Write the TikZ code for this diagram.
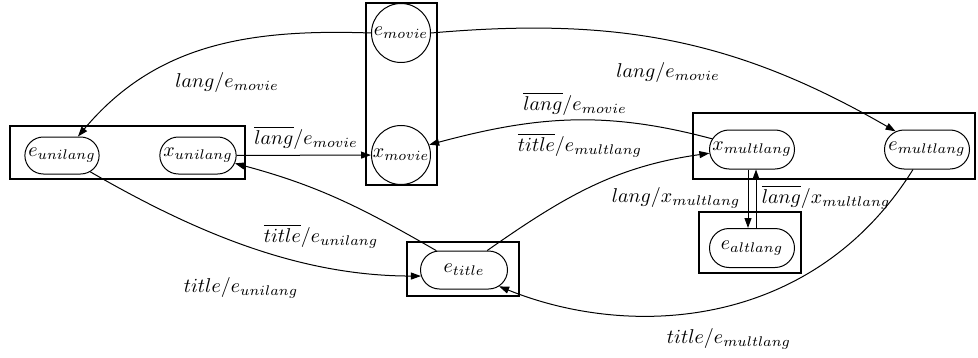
\documentclass[tikz,border=0pt]{standalone}
\usepackage{amsmath,amssymb}
\usepackage{tikz}
\usetikzlibrary{shapes.misc,arrows.meta}

\tikzset{
	st/.style={draw, rounded rectangle, line width=0.5pt, minimum width=44.5pt, minimum height=19.5pt, inner sep=1pt},
	cst/.style={draw, circle, line width=0.5pt, minimum size=29.5pt, inner sep=0pt},
	grp/.style={line width=1.2pt},
	tr/.style={->, line width=0.5pt}
}

\begin{document}
\begin{tikzpicture}[x=0.5pt, y=-0.5pt, >={Triangle[length=5pt,width=3.5pt]}]
	\useasboundingbox (0,0) rectangle (978,358);
	\draw [grp] (10,126) rectangle (245,179);
	\draw [grp] (366,3) rectangle (437,185);
	\draw [grp] (693,113) rectangle (975,179);
	\draw [grp] (699,212) rectangle (801,273);
	\draw [grp] (407,242) rectangle (519,296);

	\node [st, minimum width=36pt, minimum height=18.5pt] (eunilang) at (62,155.5) {$e_{unilang}$};
	\node [st, minimum width=37pt, minimum height=18.5pt] (xunilang) at (198,155.5) {$x_{unilang}$};
	\node [cst] (emovie) at (401,33) {$e_{movie}$};
	\node [cst] (xmovie) at (401,155) {$x_{movie}$};
	\node [st] (xmultlang) at (752,149.5) {$x_{multlang}$};
	\node [st] (emultlang) at (927,149.5) {$e_{multlang}$};
	\node [st] (ealtlang) at (752,248) {$e_{altlang}$};
	\node [st, minimum width=45.5pt, minimum height=19pt] (etitle) at (464,270) {$e_{title}$};

	\draw [tr] (emovie.west) to[out=178,in=50] (eunilang.50);
	\draw [tr] (emovie.east) to[out=5,in=150] (emultlang.150);
	\draw [tr] (xunilang) -- (xmovie);
	\draw [tr] (xmultlang.165) to[out=165,in=15] (xmovie.20);
	\draw [tr] (etitle.145) to[out=150,in=-15] (xunilang.-12);
	\draw [tr] (eunilang.-30) to[out=-30,in=180,looseness=0.9] (etitle.188);
	\draw [tr] (etitle.40) to[out=35,in=188] (xmultlang.185);
	\draw [tr] ([xshift=-2pt]xmultlang.south) -- ([xshift=-2pt]ealtlang.north);
	\draw [tr] ([xshift=2pt]ealtlang.north) -- ([xshift=2pt]xmultlang.south);
	\draw [tr] (emultlang.-125) to[out=-122,in=-22,out looseness=1.12,in looseness=0.85] (etitle.-25);

	\node (l1) at (227,83) {$lang/e_{movie}$};
	\node (l2) at (668,73) {$lang/e_{movie}$};
	\node (l3) at (306,138) {$\overline{lang}/e_{movie}$};
	\node (l4) at (575,104) {$\overline{lang}/e_{movie}$};
	\node (l5) at (580,145) {$\overline{title}/e_{multlang}$};
	\node (l6) at (676,198) {$lang/x_{multlang}$};
	\node (l7) at (826,197) {$\overline{lang}/x_{multlang}$};
	\node (l8) at (321,236) {$\overline{title}/e_{unilang}$};
	\node (l9) at (241,288) {$title/e_{unilang}$};
	\node (l10) at (729,339) {$title/e_{multlang}$};
\end{tikzpicture}
\end{document}
